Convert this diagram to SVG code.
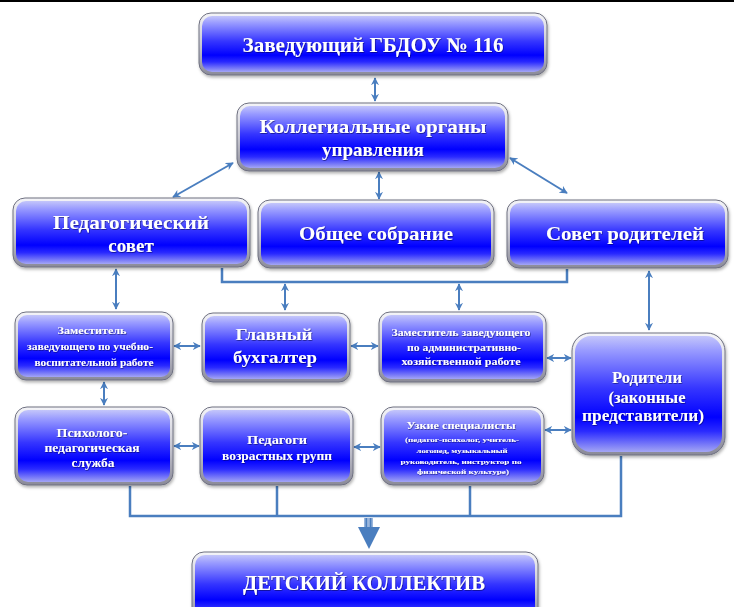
<svg xmlns="http://www.w3.org/2000/svg" width="734" height="607" viewBox="0 0 734 607">
<defs>
<linearGradient id="blue" x1="0" y1="0" x2="0" y2="1">
<stop offset="0" stop-color="#c4c6fa"/>
<stop offset="0.12" stop-color="#9a9cff"/>
<stop offset="0.45" stop-color="#3636ff"/>
<stop offset="0.7" stop-color="#0000ff"/>
<stop offset="0.82" stop-color="#2a2aff"/>
<stop offset="1" stop-color="#a4a6f4"/>
</linearGradient>
<linearGradient id="silver" x1="0" y1="0" x2="0" y2="1">
<stop offset="0" stop-color="#f4f4f8"/>
<stop offset="0.5" stop-color="#c8c8d2"/>
<stop offset="1" stop-color="#8a8a98"/>
</linearGradient>
<filter id="sh" x="-10%" y="-10%" width="120%" height="130%">
<feDropShadow dx="1" dy="2" stdDeviation="1.5" flood-color="#000" flood-opacity="0.3"/>
</filter>
<filter id="ts" x="-5%" y="-20%" width="110%" height="150%">
<feDropShadow dx="0.6" dy="0.8" stdDeviation="0.5" flood-color="#000040" flood-opacity="0.6"/>
</filter>
<marker id="ah" viewBox="0 0 10 10" refX="9" refY="5" markerWidth="8" markerHeight="8" markerUnits="userSpaceOnUse" orient="auto-start-reverse">
<path d="M0,0 L10,5 L0,10 L3,5 z" fill="#4a7ebf"/>
</marker>
</defs>
<style>
.frame{fill:url(#silver);stroke:#6e7080;stroke-width:1;filter:url(#sh)}
.fill{fill:url(#blue)}
.t{font-family:"Liberation Serif","Times New Roman",serif;font-weight:bold;fill:#ffffff;text-anchor:middle;filter:url(#ts)}
.c{fill:none;stroke:#4a7ebf;stroke-width:2.5}
.a{fill:none;stroke:#4a7ebf;stroke-width:2;marker-start:url(#ah);marker-end:url(#ah)}
</style>
<rect x="0" y="0" width="734" height="607" fill="#ffffff"/>
<line x1="0" y1="1" x2="734" y2="1" stroke="#000" stroke-width="2"/>

<g id="connectors">
<path class="a" d="M375,78 V101"/>
<path class="a" d="M379,172 V199"/>
<path class="a" d="M233,163 L173,197"/>
<path class="a" d="M510,158 L567,193"/>
<path class="a" d="M116,269 V309"/>
<path class="c" d="M222,268 V282 H567 V269"/>
<path class="a" d="M285,284 V310"/>
<path class="a" d="M459,284 V310"/>
<path class="a" d="M649,271 V330"/>
<path class="a" d="M174,346 H200"/>
<path class="a" d="M351,346 H378"/>
<path class="a" d="M547,358 H571"/>
<path class="a" d="M104,382 V405"/>
<path class="a" d="M174,446 H199"/>
<path class="a" d="M354,447 H380"/>
<path class="a" d="M545,430 H571"/>
<path class="c" d="M130,486 V516 H621 V456 M277,486 V516 M470,486 V516"/>
<g id="big-arrow">
<rect x="364" y="518" width="9" height="11" fill="#9ab6dc"/>
<rect x="365.5" y="518" width="1.6" height="11" fill="#4a7ebf"/>
<rect x="369.8" y="518" width="1.6" height="11" fill="#4a7ebf"/>
<polygon points="358,527 380,527 369,549" fill="#4a7ebf"/>
</g>
</g>

<g id="n-head">
<rect class="frame" x="199" y="13" width="348" height="62" rx="12"/>
<rect class="fill" x="202" y="16" width="342" height="56" rx="10"/>
<text class="t" x="373" y="52" font-size="21" textLength="261" lengthAdjust="spacingAndGlyphs">Заведующий ГБДОУ № 116</text>
</g>

<g id="n-coll">
<rect class="frame" x="237" y="103" width="271" height="68" rx="12"/>
<rect class="fill" x="240" y="106" width="265" height="62" rx="10"/>
<text class="t" x="373" y="133" font-size="19" textLength="227" lengthAdjust="spacingAndGlyphs">Коллегиальные органы</text>
<text class="t" x="373" y="156" font-size="19">управления</text>
</g>

<g id="n-pedsovet">
<rect class="frame" x="13" y="198" width="237" height="69" rx="12"/>
<rect class="fill" x="16" y="201" width="231" height="63" rx="10"/>
<text class="t" x="131" y="229" font-size="19" textLength="156" lengthAdjust="spacingAndGlyphs">Педагогический</text>
<text class="t" x="131" y="252" font-size="19">совет</text>
</g>

<g id="n-obshee">
<rect class="frame" x="258" y="200" width="236" height="68" rx="12"/>
<rect class="fill" x="261" y="203" width="230" height="62" rx="10"/>
<text class="t" x="376" y="240" font-size="19" textLength="154" lengthAdjust="spacingAndGlyphs">Общее собрание</text>
</g>

<g id="n-sovet-rod">
<rect class="frame" x="507" y="200" width="221" height="68" rx="12"/>
<rect class="fill" x="510" y="203" width="215" height="62" rx="10"/>
<text class="t" x="625" y="240" font-size="19" textLength="158" lengthAdjust="spacingAndGlyphs">Совет родителей</text>
</g>

<g id="n-zam-uvr">
<rect class="frame" x="15" y="312" width="158" height="68" rx="11"/>
<rect class="fill" x="18" y="315" width="152" height="62" rx="9"/>
<text class="t" x="92" y="334" font-size="11" textLength="69" lengthAdjust="spacingAndGlyphs">Заместитель</text>
<text class="t" x="90" y="350" font-size="11" textLength="126" lengthAdjust="spacingAndGlyphs">заведующего по учебно-</text>
<text class="t" x="94" y="366" font-size="11" textLength="119" lengthAdjust="spacingAndGlyphs">воспитательной работе</text>
</g>

<g id="n-buh">
<rect class="frame" x="202" y="313" width="148" height="69" rx="11"/>
<rect class="fill" x="205" y="316" width="142" height="63" rx="9"/>
<text class="t" x="274" y="340" font-size="17" textLength="77" lengthAdjust="spacingAndGlyphs">Главный</text>
<text class="t" x="275" y="363" font-size="17" textLength="84" lengthAdjust="spacingAndGlyphs">бухгалтер</text>
</g>

<g id="n-zam-ahr">
<rect class="frame" x="379" y="312" width="167" height="70" rx="11"/>
<rect class="fill" x="382" y="315" width="161" height="64" rx="9"/>
<text class="t" x="461" y="336" font-size="11" textLength="139" lengthAdjust="spacingAndGlyphs">Заместитель заведующего</text>
<text class="t" x="464" y="351" font-size="11" textLength="114" lengthAdjust="spacingAndGlyphs">по административно-</text>
<text class="t" x="461" y="365" font-size="11" textLength="119" lengthAdjust="spacingAndGlyphs">хозяйственной  работе</text>
</g>

<g id="n-roditeli">
<rect class="frame" x="572" y="333" width="153" height="122" rx="18"/>
<rect class="fill" x="575" y="336" width="147" height="116" rx="16"/>
<text class="t" x="647" y="383" font-size="16" textLength="70" lengthAdjust="spacingAndGlyphs">Родители</text>
<text class="t" x="647" y="403" font-size="16" textLength="77" lengthAdjust="spacingAndGlyphs">(законные</text>
<text class="t" x="643" y="421" font-size="16" textLength="122" lengthAdjust="spacingAndGlyphs">представители)</text>
</g>

<g id="n-psych">
<rect class="frame" x="15" y="407" width="158" height="78" rx="12"/>
<rect class="fill" x="18" y="410" width="152" height="72" rx="10"/>
<text class="t" x="92" y="437" font-size="12" textLength="71" lengthAdjust="spacingAndGlyphs">Психолого-</text>
<text class="t" x="92" y="452" font-size="12" textLength="95" lengthAdjust="spacingAndGlyphs">педагогическая</text>
<text class="t" x="93" y="467" font-size="12" textLength="43" lengthAdjust="spacingAndGlyphs">служба</text>
</g>

<g id="n-pedagogi">
<rect class="frame" x="200" y="407" width="153" height="78" rx="12"/>
<rect class="fill" x="203" y="410" width="147" height="72" rx="10"/>
<text class="t" x="277" y="444" font-size="12" textLength="60" lengthAdjust="spacingAndGlyphs">Педагоги</text>
<text class="t" x="277" y="460" font-size="12" textLength="110" lengthAdjust="spacingAndGlyphs">возрастных групп</text>
</g>

<g id="n-uzkie">
<rect class="frame" x="381" y="407" width="163" height="78" rx="12"/>
<rect class="fill" x="384" y="410" width="157" height="72" rx="10"/>
<text class="t" x="461" y="429" font-size="11" textLength="109" lengthAdjust="spacingAndGlyphs">Узкие специалисты</text>
<text class="t" x="462" y="441.5" font-size="7" textLength="114" lengthAdjust="spacingAndGlyphs">(педагог-психолог,  учитель-</text>
<text class="t" x="462" y="452.5" font-size="7" textLength="91" lengthAdjust="spacingAndGlyphs">логопед, музыкальный</text>
<text class="t" x="461" y="463.5" font-size="7" textLength="121" lengthAdjust="spacingAndGlyphs">руководитель, инструктор  по</text>
<text class="t" x="463" y="473.5" font-size="7" textLength="92" lengthAdjust="spacingAndGlyphs">физической культуре)</text>
</g>

<g id="n-deti">
<rect class="frame" x="192" y="552" width="346" height="70" rx="12"/>
<rect class="fill" x="195" y="555" width="340" height="64" rx="10"/>
<text class="t" x="364" y="590" font-size="21" textLength="242" lengthAdjust="spacingAndGlyphs">ДЕТСКИЙ КОЛЛЕКТИВ</text>
</g>
</svg>
